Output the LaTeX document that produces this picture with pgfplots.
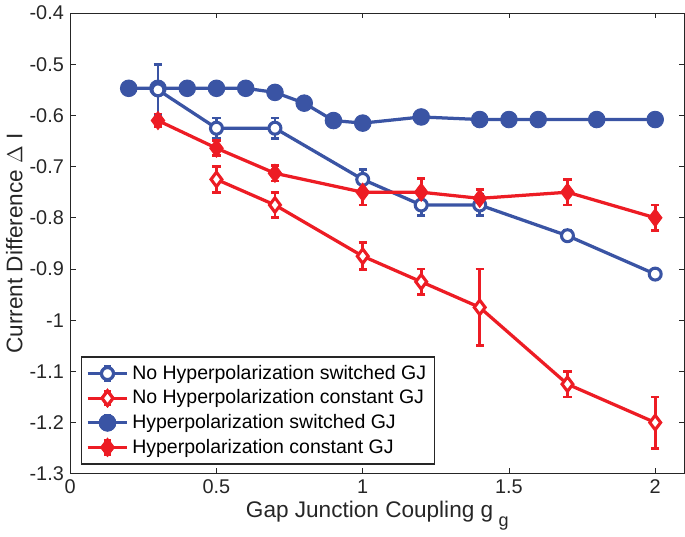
\documentclass[border=0pt]{standalone}
\usepackage{pgfplots}
\pgfplotsset{compat=1.18}
\usepackage{fontspec}
\setmainfont{Liberation Sans}
\definecolor{mblue}{RGB}{58,84,164}
\definecolor{mred}{RGB}{237,28,36}
\definecolor{axgray}{RGB}{38,38,38}
\begin{document}
\begin{tikzpicture}
\begin{axis}[
  width=340pt, height=255pt, scale only axis,
  xmin=0, xmax=2.1, ymin=-1.3, ymax=-0.4,
  xtick={0,0.5,1,1.5,2}, xticklabels={0,0.5,1,1.5,2},
  ytick={-1.3,-1.2,-1.1,-1,-0.9,-0.8,-0.7,-0.6,-0.5,-0.4},
  yticklabels={-1.3,-1.2,-1.1,-1,-0.9,-0.8,-0.7,-0.6,-0.5,-0.4},
  tick align=inside, tick style={axgray, line width=0.5pt},
  major tick length=3pt,
  axis line style={axgray, line width=0.6pt},
  ticklabel style={font=\fontsize{11}{12}\selectfont, text=axgray},
  xlabel={Gap Junction Coupling g\kern3pt\raisebox{-0.75ex}{\fontsize{10}{10}\selectfont g}},
  ylabel={Current Difference $\Delta$ I},
  label style={font=\fontsize{12.5}{14}\selectfont, text=axgray},
  xlabel style={yshift=3pt},
  ylabel style={yshift=-3pt},
  legend style={at={(rel axis cs:0.018,0.02)}, anchor=south west,
    draw=axgray, line width=0.6pt, font=\fontsize{10.8}{12}\selectfont, text=black,
    row sep=0.3pt, inner sep=2.5pt, cells={anchor=west}},
  legend image code/.code={%
    \draw[mark repeat=2,mark phase=2,#1] plot coordinates {(0cm,0cm) (0.38cm,0cm) (0.76cm,0cm)};
    \draw[#1, mark=none] (0.38cm,-0.13cm) -- (0.38cm,0.13cm);
    \draw[#1, mark=none] (0.31cm,0.13cm) -- (0.45cm,0.13cm);
    \draw[#1, mark=none] (0.31cm,-0.13cm) -- (0.45cm,-0.13cm);
    \draw[mark repeat=2,mark phase=2,#1] plot coordinates {(0cm,0cm) (0.38cm,0cm) (0.76cm,0cm)};
  },
  error bars/error bar style={line width=1.6pt},
  error bars/error mark options={rotate=90, mark size=2.3pt, line width=1.6pt},
]
% No Hyperpolarization switched GJ
\addplot[mblue, line width=1.8pt, mark=*, mark size=3.3pt, mark options={fill=white, line width=1.7pt},
  error bars/.cd, y dir=both, y explicit]
  table[x=x, y=y, y error=e]{
x y e
0.3 -0.55 0.05
0.5 -0.625 0.02
0.7 -0.625 0.02
1.0 -0.725 0.02
1.2 -0.775 0.02
1.4 -0.775 0.02
1.7 -0.835 0.01
2.0 -0.91 0.006
};
\addlegendentry{No Hyperpolarization switched GJ}
% No Hyperpolarization constant GJ
\addplot[mred, line width=1.8pt, mark=diamond*, mark size=4pt, mark options={fill=white, line width=1.7pt},
  error bars/.cd, y dir=both, y explicit]
  table[x=x, y=y, y error=e]{
x y e
0.5 -0.725 0.025
0.7 -0.775 0.025
1.0 -0.875 0.026
1.2 -0.925 0.025
1.4 -0.975 0.075
1.7 -1.125 0.025
2.0 -1.2 0.05
};
\addlegendentry{No Hyperpolarization constant GJ}
% Hyperpolarization switched GJ
\addplot[mblue, line width=1.8pt, mark=*, mark size=4.6pt, mark options={fill=mblue, line width=0.5pt},
  error bars/.cd, y dir=both, y explicit]
  table[x=x, y=y, y error=e]{
x y e
0.2 -0.547 0.004
0.3 -0.547 0.004
0.4 -0.547 0.004
0.5 -0.547 0.004
0.6 -0.547 0.004
0.7 -0.555 0.004
0.8 -0.576 0.004
0.9 -0.61 0.004
1.0 -0.615 0.004
1.2 -0.603 0.004
1.4 -0.608 0.004
1.5 -0.608 0.004
1.6 -0.608 0.004
1.8 -0.608 0.004
2.0 -0.608 0.004
};
\addlegendentry{Hyperpolarization switched GJ}
% Hyperpolarization constant GJ
\addplot[mred, line width=1.8pt, mark=diamond*, mark size=5pt, mark options={fill=mred, line width=0.5pt},
  error bars/.cd, y dir=both, y explicit]
  table[x=x, y=y, y error=e]{
x y e
0.3 -0.61 0.012
0.5 -0.664 0.015
0.7 -0.713 0.015
1.0 -0.75 0.025
1.2 -0.75 0.026
1.4 -0.762 0.018
1.7 -0.75 0.025
2.0 -0.80 0.025
};
\addlegendentry{Hyperpolarization constant GJ}
% open blue point at 0.3 drawn on top of the filled series
\addplot[forget plot, mblue, line width=1.8pt, mark=*, mark size=3.3pt, mark options={fill=white, line width=1.7pt},
  error bars/.cd, y dir=both, y explicit]
  table[x=x, y=y, y error=e]{
x y e
0.3 -0.55 0.05
};
\end{axis}
\end{tikzpicture}
\end{document}
